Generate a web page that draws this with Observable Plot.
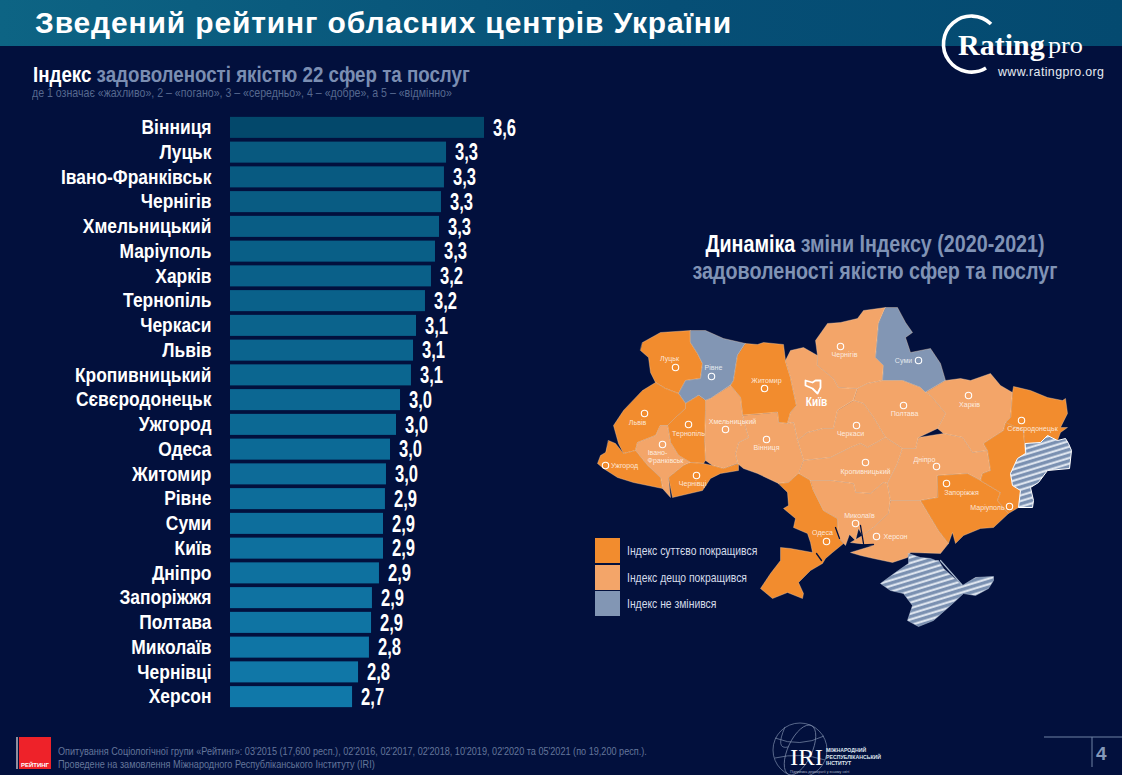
<!DOCTYPE html>
<html lang="uk"><head><meta charset="utf-8">
<script src="https://cdn.jsdelivr.net/npm/d3@7"></script>
<script src="https://cdn.jsdelivr.net/npm/@observablehq/plot@0.6"></script>
<style>
html,body{margin:0;padding:0;background:#02103d;width:1122px;height:775px;overflow:hidden}
#page{position:relative;width:1122px;height:775px;overflow:hidden;font-family:"Liberation Sans",Arial,sans-serif}
.abs{position:absolute;white-space:nowrap}
.nar{transform-origin:left center}
#band{left:0;top:0;width:1122px;height:46px;background:linear-gradient(90deg,#0d6484,#064f76 60%,#044a70)}
#title{left:35px;top:5px;font-size:30px;line-height:36px;font-weight:700;color:#fff;letter-spacing:0.85px}
#h1{left:33px;top:62px;font-size:22.3px;line-height:26px;font-weight:700;color:#7b8eb2;transform:scaleX(.84)}
#h1 b,#h2 b{color:#fff}
#h1s{left:32px;top:86px;font-size:12.4px;line-height:14px;color:#56688f;transform:scaleX(.855)}
#h2{left:625px;width:500px;top:231px;text-align:center;font-size:23px;line-height:27px;font-weight:700;color:#8093b5;transform:scaleX(.856);transform-origin:center center}
.lg{left:595px;width:25px;height:25px}
.lt{left:627px;font-size:12.6px;line-height:14px;color:#d5dcea;transform:scaleX(.823)}
#foot{left:58px;top:744.5px;font-size:11.4px;line-height:13.4px;color:#64769b;transform:scaleX(.8)}
#chart,#map{position:absolute;top:0}
#chart{left:0}#map{left:562px}
#chart svg,#map svg{display:block;background:transparent}
</style></head><body><div id="page">
<div class="abs" id="band"></div>
<div class="abs" id="title">Зведений рейтинг обласних центрів України</div>
<div class="abs nar" id="h1"><b>Індекс</b> задоволеності якістю 22 сфер та послуг</div>
<div class="abs nar" id="h1s">де 1 означає «жахливо», 2 – «погано», 3 – «середньо», 4 – «добре», а 5 – «відмінно»</div>
<div class="abs" id="h2"><b>Динаміка</b> зміни Індексу (2020-2021)<br>задоволеності якістю сфер та послуг</div>
<div id="chart"></div><div id="map"></div>
<div class="abs lg" style="top:538px;background:#f28c2e"></div>
<div class="abs lg" style="top:565px;background:#f3a569"></div>
<div class="abs lg" style="top:591px;background:#8296b4"></div>
<div class="abs nar lt" style="top:544px">Індекс суттєво покращився</div>
<div class="abs nar lt" style="top:571px">Індекс дещо покращився</div>
<div class="abs nar lt" style="top:597px">Індекс не змінився</div>
<svg class="abs" style="left:0;top:0" width="1122" height="775" id="logos">
  <path d="M991 24 A28 28 0 1 0 986 68" fill="none" stroke="#fff" stroke-width="3.6"/>
  <text x="958" y="55" font-family="Liberation Serif" font-weight="700" font-size="30" fill="#fff">Rating</text>
  <text x="1048" y="53" font-family="Liberation Serif" font-size="23" fill="#fff" textLength="35" lengthAdjust="spacingAndGlyphs">pro</text>
  <text x="998" y="76" font-family="Liberation Sans" font-size="12.4" fill="#e6ebf3" textLength="106">www.ratingpro.org</text>
  <rect x="19" y="737" width="32" height="32" fill="#ee2229"/>
  <rect x="16" y="737" width="2" height="32" fill="#8a8f9f"/>
  <text x="35" y="767" text-anchor="middle" font-family="Liberation Sans" font-weight="700" font-size="6" fill="#fff">РЕЙТИНГ</text>
  <g fill="none" stroke="#7d8cab" stroke-width="0.7">
    <circle cx="800" cy="750" r="27"/><ellipse cx="800" cy="750" rx="12" ry="27" transform="rotate(25 800 750)"/>
    <path d="M775 738 Q800 748 824 736M775 758 Q800 752 825 760M785 727 Q775 750 788 747"/>
  </g>
  <text x="790" y="765" font-family="Liberation Serif" font-size="24" fill="#fff" textLength="33" lengthAdjust="spacingAndGlyphs">IRI</text>
  <g font-family="Liberation Sans" font-weight="700" font-size="5.2" fill="#dfe5ef">
    <text x="826" y="752">МІЖНАРОДНИЙ</text><text x="826" y="759">РЕСПУБЛІКАНСЬКИЙ</text><text x="826" y="765">ІНСТИТУТ</text>
  </g>
  <text x="790" y="773" font-family="Liberation Sans" font-size="3.6" fill="#aab5c9">Підтримка демократії у всьому світі</text>
  <path d="M1044 737H1122M1092 737V767" stroke="#6f82a5" stroke-width="1" fill="none"/>
  <text x="1096" y="760" font-family="Liberation Sans" font-weight="700" font-size="19" fill="#8598b9">4</text>
</svg>
<div class="abs nar" id="foot">Опитування Соціологічної групи «Рейтинг»: 03'2015 (17,600 респ.), 02'2016, 02'2017, 02'2018, 10'2019, 02'2020 та 05'2021 (по 19,200 респ.).<br>Проведене на замовлення Міжнародного Республіканського Інституту (IRI)</div>
</div>
<script>
const FONT = '"Liberation Sans",Arial,sans-serif';

// ---------- bar chart data ----------
const cities = ["Вінниця","Луцьк","Івано-Франківськ","Чернігів","Хмельницький","Маріуполь","Харків","Тернопіль","Черкаси","Львів","Кропивницький","Сєвєродонецьк","Ужгород","Одеса","Житомир","Рівне","Суми","Київ","Дніпро","Запоріжжя","Полтава","Миколаїв","Чернівці","Херсон"];
const barLengths = [3.600,3.346,3.332,3.312,3.299,3.272,3.245,3.205,3.145,3.125,3.111,3.038,3.011,2.971,2.944,2.937,2.924,2.924,2.897,2.850,2.844,2.830,2.757,2.717];
const printedValues = ["3,6","3,3","3,3","3,3","3,3","3,3","3,2","3,2","3,1","3,1","3,1","3,0","3,0","3,0","3,0","2,9","2,9","2,9","2,9","2,9","2,9","2,8","2,8","2,7"];
const axisBase = 1.9;

// ---------- map data: outlines, in picture units ----------
const volyn=[[642,342],[660,332],[690,330],[690,342],[697,353],[702,363],[700,378],[685,380],[678,393],[665,388],[655,382],[650,372],[648,357],[640,350]];
const rivne=[[690,330],[705,330],[723,338],[745,343],[737,355],[733,380],[730,385],[710,398],[705,400],[698,395],[685,403],[678,393],[685,380],[700,378],[702,363],[697,353],[690,342]];
const zhytomyr=[[745,343],[757,344],[763,342],[783,344],[785,360],[790,377],[796,405],[790,412],[787,423],[778,422],[777,412],[742,415],[740,397],[730,385],[733,380],[737,355]];
const kyivObl=[[785,360],[790,350],[803,347],[817,355],[817,365],[833,378],[838,387],[857,388],[853,400],[837,410],[833,428],[823,428],[807,432],[797,440],[793,422],[787,423],[790,412],[796,405],[790,377]];
const chernihiv=[[817,355],[815,340],[827,323],[840,322],[857,318],[863,310],[885,307],[878,323],[875,357],[883,365],[882,380],[867,383],[857,388],[838,387],[833,378],[817,365]];
const sumy=[[885,307],[897,307],[905,322],[912,332],[905,337],[910,352],[930,348],[940,363],[945,380],[925,392],[920,387],[902,380],[882,380],[883,365],[875,357],[878,323]];
const kharkiv=[[945,380],[960,378],[970,380],[990,373],[1000,385],[1012,392],[1010,417],[1005,422],[1003,430],[983,443],[987,450],[972,452],[962,437],[943,433],[937,428],[945,413],[930,395],[925,392]];
const poltava=[[857,388],[867,383],[882,380],[902,380],[920,387],[925,392],[930,395],[945,413],[937,428],[918,437],[915,448],[902,448],[885,437],[873,417],[863,403],[853,400]];
const cherkasy=[[853,400],[863,403],[873,417],[885,437],[867,447],[860,443],[850,447],[830,457],[803,460],[797,440],[807,432],[823,428],[833,428],[837,410]];
const kropyvnytskyi=[[803,460],[830,457],[850,447],[860,443],[867,447],[885,437],[902,448],[897,463],[887,483],[883,482],[870,493],[855,492],[853,483],[830,480],[810,480],[798,473]];
const vinnytsia=[[777,412],[778,422],[787,423],[793,422],[797,440],[803,460],[798,473],[788,482],[778,483],[757,473],[743,468],[737,463],[735,453],[738,442],[748,437],[745,427],[742,415]];
const khmelnytskyi=[[730,385],[740,397],[742,415],[745,427],[748,437],[738,442],[735,453],[737,463],[723,468],[712,465],[705,460],[704,440],[705,410],[705,400],[710,398]];
const ternopil=[[705,400],[705,410],[704,440],[705,460],[703,463],[690,462],[678,455],[670,442],[667,425],[677,415],[685,408],[685,403],[698,395]];
const lviv=[[642,390],[655,382],[665,388],[678,393],[685,403],[685,408],[677,415],[667,425],[660,425],[655,435],[637,442],[635,450],[623,453],[618,443],[613,425],[623,410]];
const frankivsk=[[660,425],[667,425],[670,442],[678,455],[690,462],[683,465],[668,477],[670,497],[662,488],[660,477],[647,465],[635,450],[637,442],[655,435]];
const zakarpattia=[[608,440],[615,443],[623,453],[635,450],[647,465],[660,477],[662,488],[633,482],[617,477],[603,468],[597,463],[600,455],[605,452]];
const chernivtsi=[[690,462],[703,463],[712,465],[723,468],[738,463],[738,470],[720,473],[710,478],[702,490],[672,497],[668,477],[683,465]];
const odesa=[[778,483],[788,482],[798,473],[810,480],[813,490],[823,510],[837,518],[838,537],[843,543],[832,552],[825,558],[822,563],[810,570],[798,582],[803,593],[802,598],[787,592],[772,598],[760,588],[770,573],[780,560],[780,547],[790,548],[812,552],[810,542],[807,533],[793,527],[795,518],[783,508],[788,505],[787,492]];
const mykolaiv=[[810,480],[830,480],[853,483],[855,492],[870,493],[883,482],[887,483],[890,500],[888,513],[873,527],[862,535],[858,528],[855,540],[849,534],[845,545],[838,537],[837,518],[823,510],[813,490]];
const kherson=[[890,500],[920,500],[938,530],[948,543],[940,553],[910,552],[907,557],[892,562],[873,558],[860,555],[850,552],[873,545],[850,542],[862,535],[873,527],[888,513]];
const dnipro=[[918,437],[943,433],[962,437],[972,452],[987,450],[990,470],[982,473],[980,480],[967,473],[937,475],[937,497],[920,500],[890,500],[887,483],[897,463],[902,448],[915,448]];
const zaporizhzhia=[[937,475],[967,473],[980,480],[1000,492],[997,500],[1008,513],[993,527],[980,528],[963,535],[955,543],[952,532],[948,543],[938,530],[920,500],[937,497]];
const donetsk=[[1005,422],[1003,430],[983,443],[987,450],[990,470],[982,473],[980,480],[1000,492],[997,500],[1008,513],[1018,507],[1020,490],[1012,485],[1010,473],[1017,458],[1025,453],[1023,430]];
const luhansk=[[1012,392],[1013,386],[1030,390],[1047,397],[1062,400],[1065,398],[1067,413],[1060,427],[1067,427],[1060,432],[1057,440],[1047,435],[1040,442],[1025,443],[1025,453],[1023,430],[1005,422],[1010,417]];
const occupiedDonbas=[[1025,443],[1040,442],[1047,435],[1057,440],[1065,438],[1068,443],[1071,450],[1069,468],[1047,470],[1038,482],[1030,487],[1033,500],[1032,507],[1018,507],[1020,490],[1012,485],[1010,473],[1017,458],[1025,453]];
const crimea=[[908,553],[920,557],[930,558],[935,560],[938,560],[943,568],[962,585],[970,580],[975,577],[993,576],[993,580],[988,588],[975,595],[963,593],[950,605],[933,620],[918,626],[907,620],[912,605],[903,593],[890,590],[880,583],[895,572],[908,563]];
const arabatSpit=[[940,560],[962,585]];
const kyivCityIcon=[[805,380],[812,382],[815,380],[820,380],[820,387],[817,393],[812,388],[805,385]];
const estuaries=[[[816,553],[821,560]],[[835,527],[839,538]],[[860,525],[863,543]],[[850,545],[873,544]]];

const strong = "Індекс суттєво покращився", some = "Індекс дещо покращився", none = "Індекс не змінився";
const regionRings = [
  [volyn,strong],[rivne,none],[zhytomyr,strong],[kyivObl,some],[chernihiv,some],[sumy,none],[kharkiv,some],[poltava,some],
  [cherkasy,some],[kropyvnytskyi,some],[vinnytsia,some],[khmelnytskyi,some],[ternopil,strong],[lviv,strong],[frankivsk,some],
  [zakarpattia,strong],[chernivtsi,strong],[odesa,strong],[mykolaiv,some],[kherson,some],[dnipro,some],[zaporizhzhia,strong],[donetsk,strong],[luhansk,strong]
];
const cityDots = [["Луцьк",675,367],["Рівне",711,376],["Житомир",764,388],["Чернігів",840,346],["Львів",644,413],["Тернопіль",688,424],["Хмельницький",725,429],["Вінниця",766,439],["Івано-Франківськ",662,444],["Ужгород",605,465],["Чернівці",696,475],["Одеса",826,541],["Миколаїв",855,523],["Херсон",876,536],["Черкаси",856,425],["Кропивницький",865,462],["Полтава",903,405],["Харків",968,395],["Суми",918,360],["Сєвєродонецьк",1021,420],["Дніпро",936,466],["Запоріжжя",946,483],["Маріуполь",1009,506]];
const cityLabels = [["Луцьк",669,358],["Рівне",713,367],["Житомир",766,380],["Чернігів",844,354],["Львів",637,422],["Тернопіль",688,433],["Хмельницький",732,421],["Вінниця",766,447],["Івано-",657,452],["Франківськ",665,460],["Ужгород",624,465],["Чернівці",692,483],["Одеса",822,532],["Миколаїв",859,515],["Херсон",895,536],["Черкаси",850,433],["Кропивницький",865,471],["Полтава",904,413],["Харків",969,404],["Суми",903,360],["Сєвєродонецьк",1032,428],["Дніпро",924,459],["Запоріжжя",961,492],["Маріуполь",987,507]];
const capitalLabel = [["Київ",816,401]];

// narrows real text in place, keeping its anchor
const squeeze = (nodes, factor) => nodes.forEach(t => {
  t.setAttribute("textLength", t.getComputedTextLength() * factor);
  t.setAttribute("lengthAdjust", "spacingAndGlyphs");
});

// ---------- bars ----------
const rows = cities.map((city,i)=>({city, rank:i, length:barLengths[i], printed:printedValues[i]}));
const barPlot = Plot.plot({
  width:560, height:775, marginLeft:230, marginRight:76, marginTop:115, marginBottom:66,
  style:{background:"transparent"},
  x:{domain:[axisBase,3.6], axis:null},
  y:{domain:cities, paddingInner:0.15, paddingOuter:0.075, round:false, label:null},
  color:{type:"linear", domain:[0,1,23], range:["#03486b","#08597f","#1078a9"]},
  marks:[
    Plot.axisY({anchor:"left", tickSize:0, tickPadding:19, label:null, fontFamily:FONT, fontSize:19.5, fontWeight:"bold", color:"#fff", fill:"#fff"}),
    Plot.barX(rows,{y:"city", x1:()=>axisBase, x2:"length", fill:"rank"}),
    Plot.text(rows,{y:"city", x:"length", text:"printed", dx:8.5, textAnchor:"start", fill:"#fff", fontFamily:FONT, fontWeight:"bold", fontSize:24, className:"val"})
  ]
});
document.getElementById("chart").append(barPlot);
const barTexts = [...barPlot.querySelectorAll("text")];
squeeze(barTexts.filter(t => printedValues.includes(t.textContent)), 0.69);
squeeze(barTexts.filter(t => cities.includes(t.textContent)), 0.893);

// ---------- map ----------
const closed = r => r.concat([r[0]]);
const feat = (ring, props={}) => ({type:"Feature", properties:props, geometry:{type:"Polygon", coordinates:[closed(ring)]}});
const features = regionRings.map(([r,s])=>feat(r,{status:s}));
const pts = a => a.map(([name,x,y])=>({name,x,y}));
const hatchDefs = () => {
  const defs = d3.create("svg:defs");
  const p = defs.append("pattern").attr("id","hatch").attr("patternUnits","userSpaceOnUse")
    .attr("width",5.4).attr("height",5.4).attr("patternTransform","rotate(-17)");
  p.append("rect").attr("width",5.4).attr("height",5.4).attr("fill","#7a90b1");
  p.append("rect").attr("width",5.4).attr("y",1.4).attr("height",2).attr("fill","#e6ecf4");
  return defs.node();
};
const mapPlot = Plot.plot({
  width:560, height:775, margin:0,
  style:{background:"transparent"},
  projection:{type:()=>d3.geoIdentity().translate([-562,0])},
  color:{domain:[strong,some,none], range:["#f28c2e","#f3a569","#8296b4"]},
  marks:[
    hatchDefs,
    Plot.geo(features,{fill:d=>d.properties.status, stroke:"#fbd9b6", strokeWidth:0.5, strokeOpacity:0.7}),
    Plot.geo([{type:"MultiLineString",coordinates:estuaries}],{stroke:"#02103d", strokeWidth:1.3, fill:"none"}),
    Plot.geo([feat(occupiedDonbas)],{fill:"url(#hatch)", stroke:"#fff", strokeWidth:1}),
    Plot.geo([feat(crimea)],{fill:"url(#hatch)", stroke:"#b9c6da", strokeWidth:0.5}),
    Plot.geo([{type:"LineString",coordinates:arabatSpit}],{stroke:"#a9b9d0", strokeWidth:1.2, fill:"none"}),
    Plot.geo([feat(kyivCityIcon)],{fill:"none", stroke:"#fff", strokeWidth:1.8}),
    Plot.dot(pts(cityDots),{x:"x", y:"y", r:3.2, stroke:"#fff", strokeWidth:1.1, fill:"none"}),
    Plot.text(pts(cityLabels),{x:"x", y:"y", text:"name", fill:"#fff", fillOpacity:0.8, fontSize:7.6, fontFamily:FONT}),
    Plot.text(pts(capitalLabel),{x:"x", y:"y", text:"name", fill:"#fff", fontSize:13, fontWeight:"bold", fontFamily:FONT})
  ]
});
document.getElementById("map").append(mapPlot);
const mapTexts = [...mapPlot.querySelectorAll("text")];
squeeze(mapTexts.filter(t => t.textContent === "Київ"), 0.78);
squeeze(mapTexts.filter(t => t.textContent !== "Київ"), 0.93);
</script></body></html>
